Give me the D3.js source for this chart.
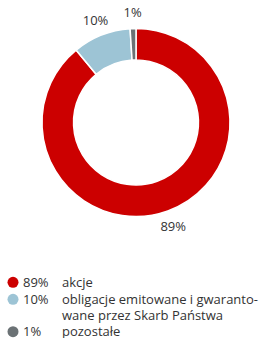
<!DOCTYPE html>
<html>
<head>
<meta charset="utf-8">
<script src="https://cdn.jsdelivr.net/npm/d3@7"></script>
<style>
    body { margin: 0; background: #fff; }
    text { font-family: "Open Sans", sans-serif; fill: #333; }
</style>
</head>
<body>
<div id="chart"></div>
<script>
// Data
const categories = ["akcje", "obligacje emitowane i gwaranto-|wane przez Skarb Państwa", "pozostałe"];
const shares = [89, 10, 1];
const colors = ["#cc0000", "#9dc4d5", "#6b7275"];

const width = 262, height = 338;
const cx = 136, cy = 122.5;
const outerR = 94, innerR = 62.5, labelR = 110;

const svg = d3.select("#chart").append("svg")
    .attr("width", width)
    .attr("height", height);

const pie = d3.pie().sort(null).value(d => d);
const arcs = pie(shares);

const arc = d3.arc().innerRadius(innerR).outerRadius(outerR);

const g = svg.append("g").attr("transform", `translate(${cx},${cy})`);

g.selectAll("path")
    .data(arcs)
    .join("path")
    .attr("d", arc)
    .attr("fill", (d, i) => colors[i])
    .attr("stroke", "#fff")
    .attr("stroke-width", 1.5);

// labels outside the ring
g.selectAll("text.slice-label")
    .data(arcs)
    .join("text")
    .attr("class", "slice-label")
    .attr("x", d => labelR * Math.sin((d.startAngle + d.endAngle) / 2))
    .attr("y", d => -labelR * Math.cos((d.startAngle + d.endAngle) / 2))
    .attr("text-anchor", "middle")
    .attr("dy", "0.35em")
    .style("font-size", "13px")
    .text(d => d.data + "%");

// Legend
const legendRows = [282.3, 299.3, 331.7];
const lineH = 16.3;

const legend = svg.append("g");
categories.forEach((cat, i) => {
    const y = legendRows[i];
    legend.append("circle")
        .attr("cx", 13)
        .attr("cy", y)
        .attr("r", 5.5)
        .attr("fill", colors[i]);
    legend.append("text")
        .attr("x", 23)
        .attr("y", y)
        .attr("dy", "0.35em")
        .style("font-size", "13px")
        .text(shares[i] + "%");
    cat.split("|").forEach((line, j) => {
        legend.append("text")
            .attr("x", 62)
            .attr("y", y + j * lineH)
            .attr("dy", "0.35em")
            .style("font-size", "13px")
            .text(line);
    });
});
</script>
</body>
</html>
